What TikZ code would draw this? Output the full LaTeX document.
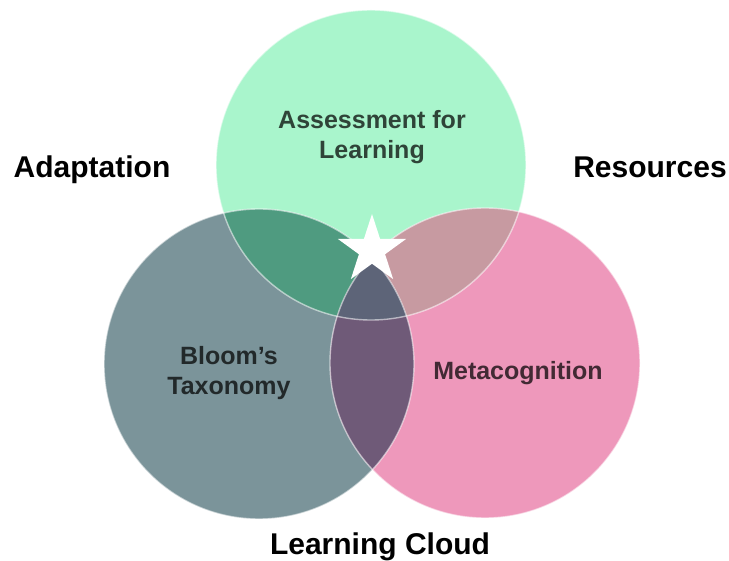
\documentclass[tikz,border=0pt]{standalone}
\usepackage{fontspec}
\setmainfont{Liberation Sans}
\usetikzlibrary{shapes.geometric}
\definecolor{mint}{HTML}{A9F5CC}
\definecolor{slate}{HTML}{7B949A}
\definecolor{rose}{HTML}{EE98BB}
\definecolor{mintslate}{HTML}{4F9B80}
\definecolor{mintrose}{HTML}{C79AA1}
\definecolor{slaterose}{HTML}{6F5A78}
\definecolor{allthree}{HTML}{5D6478}

\begin{document}
\begin{tikzpicture}[x=1pt,y=-1pt,
    inner/.style={align=center,text=black,text opacity=0.72,
      font=\bfseries\fontsize{25}{29.5}\selectfont},
    outer/.style={anchor=base,text=black,font=\bfseries\fontsize{30}{32}\selectfont},
    rim/.style={draw=white,line width=1.4pt,opacity=0.55}]
  \useasboundingbox (0,0) rectangle (729,561);

  % the three circles
  \coordinate (top) at (371,165);
  \coordinate (left) at (259,364);
  \coordinate (right) at (485,363);
  \def\rad{155}

  \fill[mint] (top) circle (\rad);
  \fill[slate] (left) circle (\rad);
  \fill[rose] (right) circle (\rad);

  % overlaps
  \begin{scope}
    \clip (top) circle (\rad);
    \fill[mintslate] (left) circle (\rad);
    \fill[mintrose] (right) circle (\rad);
  \end{scope}
  \begin{scope}
    \clip (left) circle (\rad);
    \fill[slaterose] (right) circle (\rad);
    \clip (top) circle (\rad);
    \fill[allthree] (right) circle (\rad);
  \end{scope}

  % glassy edges
  \draw[rim] (top) circle (\rad);
  \draw[rim] (left) circle (\rad);
  \draw[rim] (right) circle (\rad);

  \node[star,star points=5,star point ratio=2.618,minimum size=72pt,
        inner sep=0pt,fill=white] (mark) at (372,250) {};

  % labels
  \node[inner] (afl) at (372,137) {Assessment for\\Learning};
  \node[inner] (bloom) at (229,373) {Bloom’s\\Taxonomy};
  \node[inner] (meta) at (518,373) {Metacognition};

  \node[outer] (adapt) at (92,178) {Adaptation};
  \node[outer] (res) at (650,178) {Resources};
  \node[outer] (cloud) at (380,554) {Learning Cloud};
\end{tikzpicture}
\end{document}
